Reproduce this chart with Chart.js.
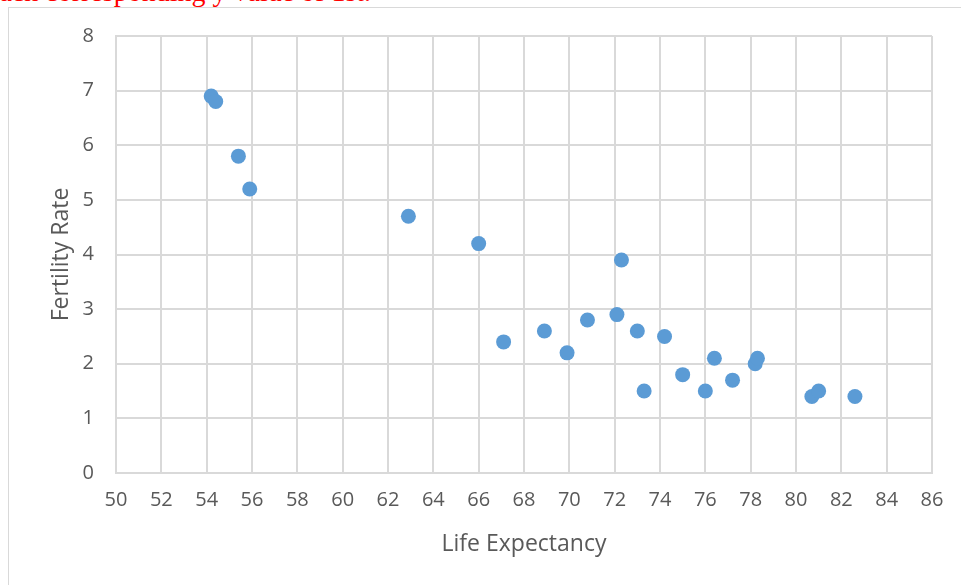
<!DOCTYPE html>
<html>
<head>
<meta charset="utf-8">
<script src="https://cdn.jsdelivr.net/npm/chart.js@4"></script>
<style>
  html, body { margin:0; padding:0; background:#fff; overflow:hidden; }
  #note { position:absolute; left:-13px; top:-22.5px; font-family:'Liberation Serif', serif; font-size:28px; line-height:28px; color:#FF0000; white-space:nowrap; }
  #frame { position:absolute; left:8px; top:7px; width:980px; height:600px; border:1px solid #D9D9D9; background:#fff; }
  #wrap { position:absolute; left:0; top:0; width:961px; height:585px; }
</style>
</head>
<body>
<div id="note">each corresponding y value of 1st.</div>
<div id="frame"></div>
<div id="wrap"><canvas id="chart-scatter" width="961" height="585"></canvas></div>
<script>
/* ── Datos ── */
var lifeExpectancy = [54.2, 54.4, 55.4, 55.9, 62.9, 66.0, 67.1, 68.9, 69.9, 70.8, 72.1, 72.3,
                      73.0, 73.3, 74.2, 75.0, 76.0, 76.4, 77.2, 78.2, 78.3, 80.7, 81.0, 82.6];
var fertilityRate  = [6.9, 6.8, 5.8, 5.2, 4.7, 4.2, 2.4, 2.6, 2.2, 2.8, 2.9, 3.9,
                      2.6, 1.5, 2.5, 1.8, 1.5, 2.1, 1.7, 2.0, 2.1, 1.4, 1.5, 1.4];
var xRange = [50, 86, 2];   // min, max, paso
var yRange = [0, 8, 1];
var xTitle = 'Life Expectancy';
var yTitle = 'Fertility Rate';

var FONT = "'Open Sans', sans-serif";
var GRID = '#D9D9D9';
var TXT = '#595959';

var puntos = lifeExpectancy.map(function(x, i) { return { x:x, y:fertilityRate[i] }; });

new Chart(document.getElementById('chart-scatter').getContext('2d'), {
  type: 'scatter',
  data: { datasets: [{ data: puntos, backgroundColor:'#5B9BD5', borderColor:'#5B9BD5', borderWidth:0, pointRadius:7.5, pointHoverRadius:7.5 }] },
  options: {
    responsive:false, animation:false,
    layout: { padding:{ left:48, top:36, right:29, bottom:27 } },
    plugins: { legend:{ display:false }, tooltip:{ enabled:false } },
    scales: {
      x: {
        type:'linear', min:xRange[0], max:xRange[1],
        grid:{ color:GRID, lineWidth:2, drawTicks:false },
        border:{ color:GRID, width:2 },
        ticks:{ stepSize:xRange[2], padding:15, color:TXT, font:{ family:FONT, size:20 } },
        title:{ display:true, text:xTitle, color:TXT, padding:0, font:{ family:FONT, size:23 } },
        afterFit: function(s) { s.height = 85; }
      },
      y: {
        type:'linear', min:yRange[0], max:yRange[1],
        grid:{ color:GRID, lineWidth:2, drawTicks:false },
        border:{ color:GRID, width:2 },
        ticks:{ stepSize:yRange[2], padding:22, color:TXT, font:{ family:FONT, size:20 } },
        title:{ display:true, text:yTitle, color:TXT, padding:0, font:{ family:FONT, size:23 } },
        afterFit: function(s) { s.width = 68; }
      }
    }
  }
});
</script>
</body>
</html>
